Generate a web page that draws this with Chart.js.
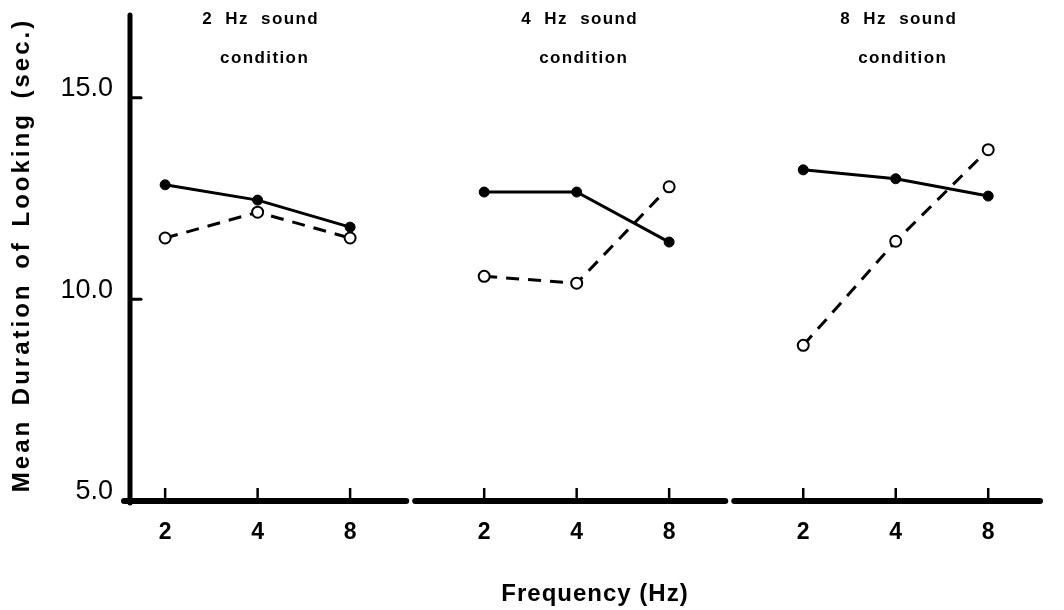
<!DOCTYPE html>
<html>
<head>
<meta charset="utf-8">
<script src="https://cdn.jsdelivr.net/npm/chart.js@4.4.1/dist/chart.umd.min.js"></script>
<style>
  html, body { margin: 0; padding: 0; background: #fff; }
  canvas { display: block; }
</style>
</head>
<body>
<canvas id="myChart" width="1064" height="610"></canvas>
<script>
// values
const frequencies = ['2', '4', '8']
const conditions = ['2 Hz sound', '4 Hz sound', '8 Hz sound']
const conditionSub = 'condition'
const filledMeans = [[12.84, 12.46, 11.79], [12.66, 12.66, 11.42], [13.21, 12.99, 12.56]]
const openMeans = [[11.52, 12.16, 11.52], [10.57, 10.40, 12.79], [8.86, 11.44, 13.71]]
const yTicks = [5, 10, 15]
const yTitle = 'Mean Duration of Looking (sec.)'
const xTitle = 'Frequency (Hz)'

const FONT = "'Liberation Sans', Arial, Helvetica, sans-serif"
const panelStep = 3.45
let xOf = (p, i) => p * panelStep + i
let gapOf = p => xOf(p, 2) + 0.65

let xPositions = []
conditions.forEach((c, p) => frequencies.forEach((f, i) => xPositions.push(xOf(p, i))))

function buildSeries(values) {
  let pts = []
  values.forEach((panel, p) => {
    panel.forEach((v, i) => pts.push({ x: xOf(p, i), y: v }))
    if (p < values.length - 1) pts.push({ x: gapOf(p), y: null })
  })
  return pts
}

let line = (ctx, x1, y1, x2, y2) => {
  ctx.beginPath()
  ctx.moveTo(x1, y1)
  ctx.lineTo(x2, y2)
  ctx.stroke()
}

const axesPlugin = {
  id: 'axesPlugin',
  beforeDatasetsDraw(chart) {
    const { ctx, chartArea: a, scales: { x, y } } = chart
    ctx.save()
    ctx.strokeStyle = '#000'
    ctx.lineCap = 'round'

    // y axis + inward ticks
    ctx.lineWidth = 5
    line(ctx, a.left, a.top - 2, a.left, a.bottom + 2)
    ctx.lineWidth = 3
    yTicks.slice(1).forEach(v => {
      let py = y.getPixelForValue(v)
      line(ctx, a.left, py, a.left + 11, py)
    })

    // broken x axis
    ctx.lineWidth = 6
    let starts = [a.left - 6], ends = []
    conditions.slice(0, -1).forEach((c, p) => {
      let g = x.getPixelForValue(gapOf(p))
      ends.push(g - 4)
      starts.push(g + 5)
    })
    ends.push(a.right)
    starts.forEach((s, k) => line(ctx, s, a.bottom, ends[k], a.bottom))

    ctx.lineWidth = 2.5
    ctx.lineCap = 'butt'
    xPositions.forEach(v => {
      let px = x.getPixelForValue(v)
      line(ctx, px, a.bottom, px, a.bottom - 13)
    })
    ctx.restore()
  },
  afterDraw(chart) {
    const { ctx, chartArea: a, scales: { x } } = chart
    ctx.save()
    ctx.fillStyle = '#000'
    ctx.textAlign = 'center'
    ctx.textBaseline = 'middle'

    // panel headings
    ctx.font = 'bold 17px ' + FONT
    ctx.letterSpacing = '1.4px'
    conditions.forEach((c, p) => {
      let px = x.getPixelForValue(xOf(p, 1))
      ctx.fillText(c.replace(/ /g, '  '), px + 3, 19)
      ctx.fillText(conditionSub, px + 7, 58)
    })

    // axis titles, widely tracked as in the print
    ctx.font = 'bold 24px ' + FONT
    ctx.letterSpacing = '1px'
    ctx.fillText(xTitle, (a.left + a.right) / 2 + 10, 594)

    ctx.letterSpacing = '3px'
    ctx.wordSpacing = '4px'
    ctx.translate(22, (a.top + a.bottom) / 2 - 4)
    ctx.rotate(-Math.PI / 2)
    ctx.fillText(yTitle, 0, 0)
    ctx.restore()
  }
}

const canvas = document.querySelector('#myChart')

const chart = new Chart(canvas, {
  type: 'line',
  data: {
    datasets: [
      {
        label: 'open',
        data: buildSeries(openMeans),
        borderColor: '#000',
        borderWidth: 3,
        borderDash: [13, 9],
        pointRadius: 5.5,
        pointBackgroundColor: '#fff',
        pointBorderColor: '#000',
        pointBorderWidth: 2,
        spanGaps: false,
      },
      {
        label: 'filled',
        data: buildSeries(filledMeans),
        borderColor: '#000',
        borderWidth: 3,
        pointRadius: 5,
        pointBackgroundColor: '#000',
        pointBorderColor: '#000',
        pointBorderWidth: 1,
        spanGaps: false,
      },
    ],
  },
  options: {
    responsive: false,
    animation: false,
    layout: { padding: { top: 17, right: 24, left: 0, bottom: 0 } },
    plugins: {
      legend: { display: false },
      tooltip: { enabled: false },
    },
    scales: {
      x: {
        type: 'linear',
        min: -0.38,
        max: 9.46,
        grid: { display: false, drawTicks: false },
        border: { display: false },
        afterBuildTicks: scale => { scale.ticks = xPositions.map(v => ({ value: v })) },
        afterFit: scale => { scale.height = 109 },
        ticks: {
          padding: 18,
          maxRotation: 0,
          color: '#000',
          font: { family: FONT, size: 23, weight: 'bold' },
          callback: (value, index) => frequencies[index % frequencies.length],
        },
      },
      y: {
        min: 5,
        max: 17,
        grid: { display: false, drawTicks: false },
        border: { display: false },
        afterBuildTicks: scale => { scale.ticks = yTicks.map(v => ({ value: v })) },
        afterFit: scale => {
          scale.width = 130
          scale.paddingTop = 0
          scale.paddingBottom = 0
        },
        ticks: {
          padding: 17,
          labelOffset: -9,
          color: '#000',
          font: { family: FONT, size: 27 },
          callback: v => v.toFixed(1),
        },
      },
    },
  },
  plugins: [axesPlugin],
})
</script>
</body>
</html>
